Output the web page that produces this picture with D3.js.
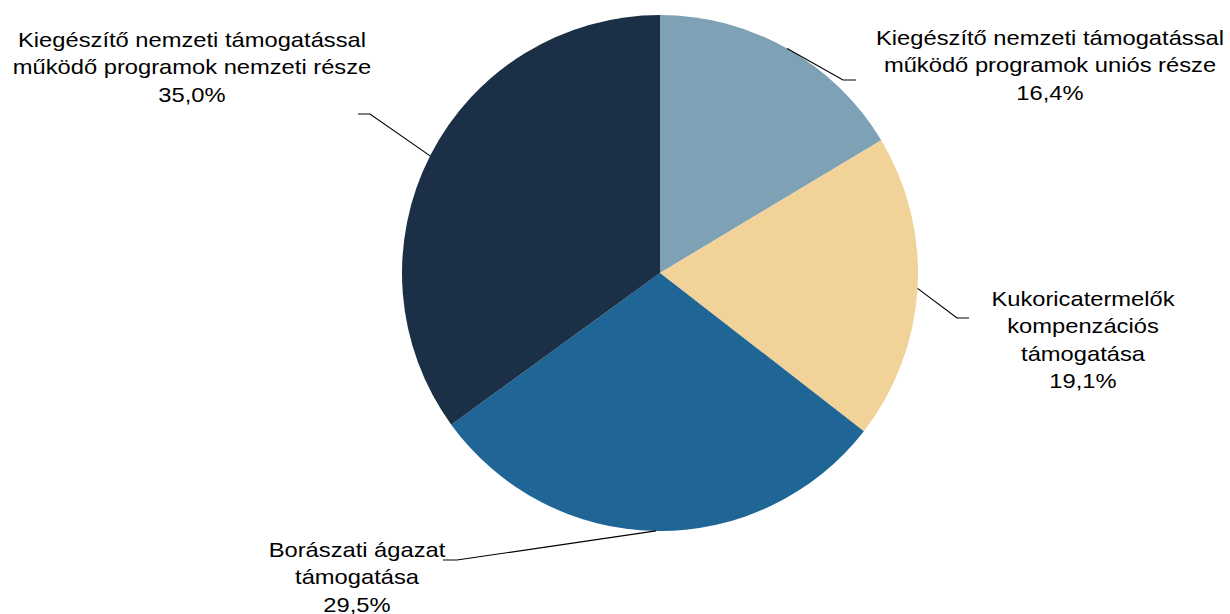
<!DOCTYPE html>
<html>
<head>
<meta charset="utf-8">
<script src="https://cdn.jsdelivr.net/npm/d3@7"></script>
<style>
  body { margin: 0; background: #fff; }
  svg { display: block; }
</style>
</head>
<body>
<div id="chart"></div>
<script>
// data
var categories = [
  ["Kiegészítő nemzeti támogatással", "működő programok uniós része"],
  ["Kukoricatermelők", "kompenzációs", "támogatása"],
  ["Borászati ágazat", "támogatása"],
  ["Kiegészítő nemzeti támogatással", "működő programok nemzeti része"]
];
var values = [16.4, 19.1, 29.5, 35.0];
var colors = ["#7fa1b5", "#f1d298", "#1f6596", "#1b3046"];

// label layout: elbow point, end of leader, text centre and first baseline
var labelLayout = [
  {elbow: [843, 80], end: [856, 80], tx: 1050, ty: 45},
  {elbow: [957, 318], end: [969, 318], tx: 1083, ty: 306},
  {elbow: [457, 560], end: [443, 560], tx: 357, ty: 557},
  {elbow: [370, 114], end: [358, 114], tx: 192, ty: 47}
];

var width = 1230, height = 614;
var cx = 660, cy = 273, radius = 258;
var lineH = 27.5;
var fontSize = 21, stretch = 1.13;   // the source text is a bit wider than Arial

var svg = d3.select("#chart").append("svg")
    .attr("width", width)
    .attr("height", height);

var g = svg.append("g")
    .attr("transform", "translate(" + cx + "," + cy + ")");

var pie = d3.pie().sort(null).value(function(d) { return d; });
var arc = d3.arc().innerRadius(0).outerRadius(radius);
var arcs = pie(values);

g.selectAll(".slice")
  .data(arcs)
  .enter().append("path")
    .attr("class", "slice")
    .attr("d", arc)
    .style("fill", function(d, i) { return colors[i]; });

// leader lines start on the arc at the middle angle of each slice
arcs.forEach(function(d, i) {
  var mid = (d.startAngle + d.endAngle) / 2;
  var sx = cx + radius * Math.sin(mid),
      sy = cy - radius * Math.cos(mid);
  var L = labelLayout[i];
  svg.append("polyline")
    .attr("points", [[sx, sy], L.elbow, L.end].map(function(p) { return p.join(","); }).join(" "))
    .style("fill", "none")
    .style("stroke", "#000")
    .style("stroke-width", 1.2);

  var lines = categories[i].concat([d3.format(".1f")(values[i]).replace(".", ",") + "%"]);
  var t = svg.append("text")
    .attr("transform", "translate(" + L.tx + ",0) scale(" + stretch + ",1)")
    .attr("text-anchor", "middle")
    .style("font-family", "Arial, 'Liberation Sans', sans-serif")
    .style("font-size", fontSize + "px")
    .style("fill", "#000");
  lines.forEach(function(s, j) {
    t.append("tspan").attr("x", 0).attr("y", L.ty + j * lineH).text(s);
  });
});
</script>
</body>
</html>
